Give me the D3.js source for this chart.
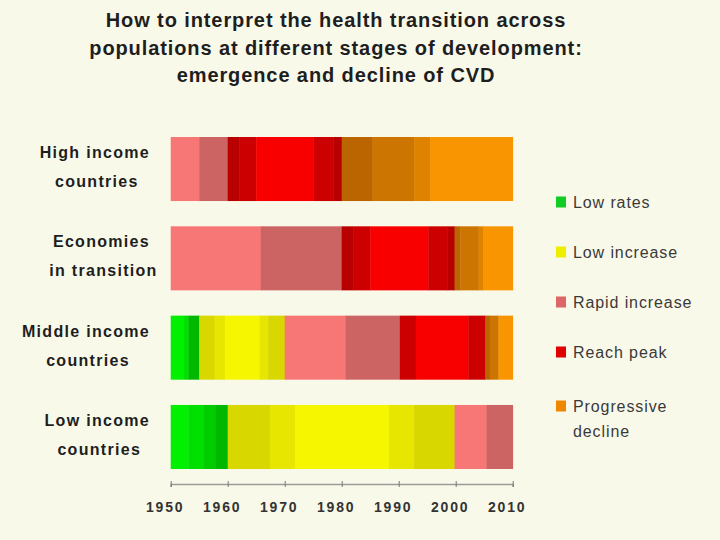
<!DOCTYPE html>
<html>
<head>
<meta charset="utf-8">
<script src="https://cdn.jsdelivr.net/npm/d3@7"></script>
<style>
  body { margin: 0; background: #f9f9ea; }
  svg { display: block; font-family: "Liberation Sans", Arial, sans-serif; }
</style>
</head>
<body>
<svg id="chart" width="720" height="540"></svg>
<script>
// stages of the transition, in legend order
const stages = ["Low rates", "Low increase", "Rapid increase", "Reach peak", "Progressive decline"]
const legendLines = [["Low rates"], ["Low increase"], ["Rapid increase"], ["Reach peak"], ["Progressive", "decline"]]

const groups = ["High income countries", "Economies in transition", "Middle income countries", "Low income countries"]
const groupLines = [["High income", "countries"], ["Economies", "in transition"], ["Middle income", "countries"], ["Low income", "countries"]]

const titleLines = [
  "How to interpret the health transition across",
  "populations at different stages of development:",
  "emergence and decline of CVD"
]

const startYear = 1950
const endYear = 2010
const tickYears = [1950, 1960, 1970, 1980, 1990, 2000, 2010]

// each segment: [stage index, shade level, end year] (starts where the previous one ends)
const highIncome = [
  [2, 0, 1955], [2, 1, 1960], [3, 2, 1962], [3, 1, 1965], [3, 0, 1975], [3, 1, 1978.5], [3, 2, 1980],
  [4, 3, 1985.4], [4, 2, 1992.7], [4, 1, 1995.5], [4, 0, 2010]
]
const economiesInTransition = [
  [2, 0, 1965.8], [2, 1, 1980], [3, 2, 1982], [3, 1, 1985], [3, 0, 1995.2], [3, 1, 1998.5], [3, 2, 1999.8],
  [4, 3, 2000.8], [4, 2, 2004], [4, 1, 2004.8], [4, 0, 2010]
]
const middleIncome = [
  [0, 0, 1952.2], [0, 1, 1953.1], [0, 3, 1955], [1, 2, 1957.7], [1, 1, 1959.5], [1, 0, 1965.6], [1, 1, 1967.1],
  [1, 2, 1970], [2, 0, 1980.7], [2, 1, 1990.2], [3, 1, 1993], [3, 0, 2002.2], [3, 1, 2005.2],
  [4, 3, 2006], [4, 2, 2007.5], [4, 0, 2010]
]
const lowIncome = [
  [0, 0, 1953.1], [0, 1, 1955.7], [0, 2, 1957.8], [0, 3, 1960], [1, 2, 1967.4], [1, 1, 1971.8], [1, 0, 1988.3],
  [1, 1, 1992.7], [1, 2, 1999.8], [2, 0, 2005.4], [2, 1, 2010]
]
const groupSegments = [highIncome, economiesInTransition, middleIncome, lowIncome]

// shades per stage, lightest/brightest first
const shades = [
  ["#00f000", "#00e000", "#00cc00", "#00b800"],
  ["#f6f600", "#e6e600", "#d8d800"],
  ["#f77777", "#cc6464"],
  ["#f80000", "#cc0000", "#b80000"],
  ["#f89500", "#dd8300", "#cc7500", "#bb6500"]
]
const legendColors = ["#11cc22", "#eeee00", "#dd6666", "#e00000", "#ee8800"]

const svg = d3.select("#chart")
const ink = "#1e1e1e"

// title
svg.append("g")
  .selectAll("text")
  .data(titleLines)
  .join("text")
  .attr("x", 336)
  .attr("y", (d, i) => 27 + i * 27.5)
  .attr("text-anchor", "middle")
  .attr("font-size", 20)
  .attr("font-weight", "bold")
  .attr("letter-spacing", 0.9)
  .attr("fill", ink)
  .text(d => d)

const x = d3.scaleLinear()
  .domain([startYear, endYear])
  .range([170.7, 512.7])

const y = d3.scaleBand()
  .domain(groups)
  .range([137, 469])
  .paddingInner(0.283)

// flatten segments with start/end years
let segs = []
groups.forEach((g, gi) => {
  let from = startYear
  groupSegments[gi].forEach(s => {
    segs.push({ group: g, stage: s[0], shade: s[1], from: from, to: s[2] })
    from = s[2]
  })
})

svg.append("g")
  .selectAll("rect")
  .data(segs)
  .join("rect")
  .attr("x", d => x(d.from))
  .attr("width", d => x(d.to) - x(d.from) + 0.4)
  .attr("y", d => y(d.group))
  .attr("height", y.bandwidth())
  .attr("fill", d => shades[d.stage][d.shade])

// group labels, two centred lines with the first ending at x=150
groups.forEach((g, gi) => {
  let cy = y(g) + y.bandwidth() / 2
  let t1 = svg.append("text")
    .attr("x", 150)
    .attr("y", cy - 11)
    .attr("text-anchor", "end")
    .attr("font-size", 16)
    .attr("font-weight", "bold")
    .attr("letter-spacing", 1.3)
    .attr("fill", ink)
    .text(groupLines[gi][0])
  let w = t1.node().getComputedTextLength()
  svg.append("text")
    .attr("x", 150 - w / 2 + 2)
    .attr("y", cy + 18)
    .attr("text-anchor", "middle")
    .attr("font-size", 16)
    .attr("font-weight", "bold")
    .attr("letter-spacing", 1.3)
    .attr("fill", ink)
    .text(groupLines[gi][1])
})

// axis
let axis = svg.append("g")
  .attr("transform", "translate(0,484)")
  .call(d3.axisBottom(x).tickValues(tickYears).tickFormat(d3.format("d")).tickSize(3).tickPadding(15))

axis.select(".domain").attr("stroke", "#9a9a9a").attr("stroke-width", 1.6)
axis.selectAll(".tick line").attr("stroke", "#777").attr("y1", -3).attr("y2", 3)
axis.selectAll(".tick text")
  .attr("font-size", 14)
  .attr("font-weight", "bold")
  .attr("letter-spacing", 1.8)
  .attr("fill", "#333")
  .attr("font-family", "'Liberation Sans', Arial, sans-serif")
  .attr("dx", -6)

// legend
let legend = svg.append("g")
  .selectAll("g")
  .data(stages)
  .join("g")
  .attr("transform", (d, i) => `translate(556,${202 + i * 50 + (legendLines[i].length - 1) * 4})`)

legend.append("rect")
  .attr("x", 0)
  .attr("y", -5.5)
  .attr("width", 10)
  .attr("height", 11)
  .attr("fill", (d, i) => legendColors[i])

legend.append("text")
  .attr("x", 17)
  .attr("y", 5.5)
  .attr("font-size", 16)
  .attr("letter-spacing", 0.9)
  .attr("fill", "#3a3a3a")
  .selectAll("tspan")
  .data((d, i) => legendLines[i])
  .join("tspan")
  .attr("x", 17)
  .attr("dy", (d, j) => j === 0 ? 0 : 25)
  .text(d => d)
</script>
</body>
</html>
